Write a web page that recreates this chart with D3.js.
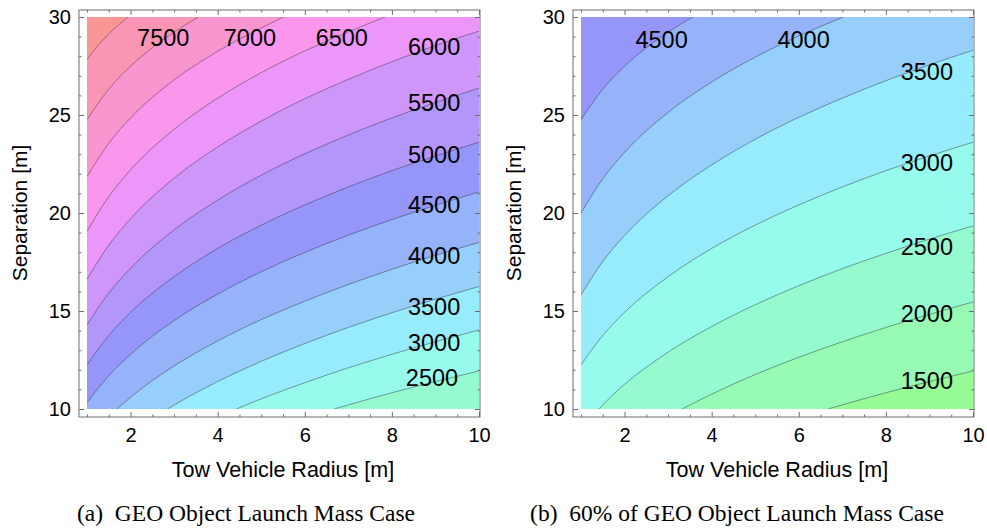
<!DOCTYPE html>
<html>
<head>
<meta charset="utf-8">
<script src="https://cdn.jsdelivr.net/npm/d3@7"></script>
<style>
  body { margin: 0; background: #fff; }
</style>
</head>
<body>
<div id="chart"></div>
<script>
// tick labels
var xTicks = [2, 4, 6, 8, 10];
var yTicks = [10, 15, 20, 25, 30];

// (a) contour levels, lines as [radius, separation]
var levelsA = [2500, 3000, 3500, 4000, 4500, 5000, 5500, 6000, 6500, 7000, 7500, 8000];
var linesA = [
  [[6.67,10],[7,10.21],[8,10.83],[9,11.40],[10,11.94]],
  [[4.43,10],[5,10.52],[6,11.34],[7,12.10],[8,12.79],[9,13.43],[10,14.03]],
  [[2.85,10],[3,10.20],[4,11.40],[5,12.43],[6,13.34],[7,14.16],[8,14.91],[9,15.60],[10,16.25]],
  [[1.69,10],[2,10.60],[3,12.20],[4,13.47],[5,14.56],[6,15.50],[7,16.35],[8,17.13],[9,17.84],[10,18.50]],
  [[1,10.32],[1.5,11.70],[2,12.79],[3,14.51],[4,15.86],[5,17.00],[6,17.99],[7,18.87],[8,19.66],[9,20.39],[10,21.07]],
  [[1,12.25],[1.5,13.75],[2,14.93],[3,16.75],[4,18.19],[5,19.38],[6,20.41],[7,21.33],[8,22.16],[9,22.91],[10,23.61]],
  [[1,14.29],[1.5,15.92],[2,17.18],[3,19.14],[4,20.66],[5,21.93],[6,23.02],[7,23.98],[8,24.85],[9,25.64],[10,26.37]],
  [[1,16.62],[1.5,18.36],[2,19.71],[3,21.78],[4,23.37],[5,24.69],[6,25.83],[7,26.82],[8,27.72],[9,28.54],[10,29.28]],
  [[1,19.06],[1.5,20.84],[2,22.20],[3,24.27],[4,25.86],[5,27.16],[6,28.27],[7,29.24],[7.84,30]],
  [[1,21.86],[1.5,23.56],[2,24.85],[3,26.79],[4,28.25],[5,29.44],[5.51,30]],
  [[1,24.76],[1.5,26.32],[2,27.49],[2.5,28.43],[3,29.23],[3.56,30]],
  [[1,27.82],[1.25,28.54],[1.5,29.14],[1.75,29.65],[1.94,30]]
];
// label spots for (a), null = unlabelled
var labelsA = [[8.92,11.59],[8.97,13.37],[8.97,15.21],[8.97,17.81],[8.97,20.42],[8.97,22.97],
               [8.97,25.63],[8.97,28.50],[6.85,28.96],[4.74,28.96],[2.75,28.96],null];

// (b) 60% case
var levelsB = [1500, 2000, 2500, 3000, 3500, 4000, 4500];
var linesB = [
  [[6.67,10],[7,10.21],[8,10.83],[9,11.40],[10,11.94]],
  [[3.32,10],[4,10.76],[5,11.76],[6,12.64],[7,13.43],[8,14.16],[9,14.83],[10,15.46]],
  [[1.41,10],[1.7,10.66],[2,11.26],[3,12.90],[4,14.21],[5,15.32],[6,16.29],[7,17.16],[8,17.94],[9,18.67],[10,19.34]],
  [[1,12.25],[1.5,13.75],[2,14.93],[3,16.75],[4,18.19],[5,19.38],[6,20.41],[7,21.33],[8,22.16],[9,22.91],[10,23.61]],
  [[1,15.82],[1.5,17.53],[2,18.85],[3,20.88],[4,22.45],[5,23.76],[6,24.88],[7,25.86],[8,26.75],[9,27.56],[10,28.30]],
  [[1,19.99],[1.5,21.75],[2,23.09],[3,25.13],[4,26.68],[5,27.95],[6,29.03],[7.02,30]],
  [[1,24.76],[1.5,26.32],[2,27.49],[2.5,28.43],[3,29.23],[3.57,30]]
];
var labelsB = [[8.94,11.45],[8.94,14.89],[8.94,18.29],[8.94,22.58],[8.94,27.22],[6.11,28.84],[2.85,28.84]];

var width = 987, height = 529;

var svg = d3.select("#chart")
  .append("svg")
    .attr("width", width)
    .attr("height", height)
    .style("font-family", "'Liberation Sans', Arial, sans-serif");

// shared colour: value -> hue (green .. blue .. magenta .. red)
var hue = d3.scaleLinear().domain([1250, 8250]).range([120, 360]);
function bandColor(v) {
  return d3.hsl(hue(v) % 360, 0.907, 0.784).formatHex();
}

var frameCol = "#6e6e6e";

function panel(left, levels, lines, labels, caption, captionX, id) {
  var x = d3.scaleLinear().domain([1, 10]).range([left, left + 392]);
  var y = d3.scaleLinear().domain([10, 30]).range([409, 17]);

  var fL = x(1) - 8, fR = x(10) + 1, fT = y(30) - 7, fB = y(10) + 8;

  var g = svg.append("g");

  svg.append("clipPath").attr("id", "clip" + id)
    .append("rect")
      .attr("x", x(1)).attr("y", y(30))
      .attr("width", x(10) - x(1)).attr("height", y(10) - y(30));

  var plot = g.append("g").attr("clip-path", "url(#clip" + id + ")");

  // lowest band first
  plot.append("rect")
    .attr("x", x(1)).attr("y", y(30))
    .attr("width", x(10) - x(1)).attr("height", y(10) - y(30))
    .attr("fill", bandColor(levels[0] - 250));

  var line = d3.line()
    .x(function(d) { return x(d[0]); })
    .y(function(d) { return y(d[1]); })
    .curve(d3.curveMonotoneX);

  // each level paints the region above-left of its line
  levels.forEach(function(lv, i) {
    var pts = lines[i];
    var first = pts[0], last = pts[pts.length - 1];
    var corners = [];
    if (last[0] >= 10) corners.push([10, 30]);
    corners.push([1, 30]);
    if (first[0] > 1) corners.push([1, 10]);
    var d = line(pts) + corners.map(function(c) { return "L" + x(c[0]) + "," + y(c[1]); }).join("") + "Z";
    plot.append("path").attr("d", d).attr("fill", bandColor(lv + 250));
  });

  plot.selectAll(".cline")
    .data(lines)
    .enter()
    .append("path")
      .attr("class", "cline")
      .attr("d", line)
      .attr("fill", "none")
      .attr("stroke", "#2a2a3a")
      .attr("stroke-opacity", 0.5)
      .attr("stroke-width", 0.9);

  // contour labels
  g.selectAll(".clab")
    .data(levels.map(function(lv, i) { return {v: lv, p: labels[i]}; }).filter(function(d) { return d.p; }))
    .enter()
    .append("text")
      .attr("class", "clab")
      .attr("x", function(d) { return x(d.p[0]); })
      .attr("y", function(d) { return y(d.p[1]); })
      .attr("dy", "0.36em")
      .attr("text-anchor", "middle")
      .style("font-size", "23.5px")
      .attr("fill", "#000")
      .text(function(d) { return d.v; });

  // frame
  g.append("rect")
    .attr("x", fL).attr("y", fT)
    .attr("width", fR - fL).attr("height", fB - fT)
    .attr("fill", "none")
    .attr("stroke", frameCol)
    .attr("stroke-width", 1);

  var xMinor = d3.range(1, 10.01, 0.5).filter(function(v) { return v % 2 !== 0; });
  var yMinor = d3.range(10, 30.01, 1).filter(function(v) { return v % 5 !== 0; });

  function styleAxis(sel) {
    sel.select(".domain").remove();
    sel.selectAll(".tick line").attr("stroke", frameCol);
    sel.selectAll("text").style("font-size", "20px").style("font-family", "'Liberation Sans', Arial, sans-serif").attr("fill", "#000");
  }

  g.append("g").attr("transform", "translate(0," + fB + ")")
    .call(d3.axisBottom(x).tickValues(xTicks).tickSizeInner(-5).tickSizeOuter(0).tickPadding(11))
    .call(styleAxis);
  g.append("g").attr("transform", "translate(0," + fB + ")")
    .call(d3.axisBottom(x).tickValues(xMinor).tickSize(-2.5).tickFormat(""))
    .call(styleAxis);
  g.append("g").attr("transform", "translate(0," + fT + ")")
    .call(d3.axisTop(x).tickValues(xTicks).tickSize(-5).tickFormat(""))
    .call(styleAxis);
  g.append("g").attr("transform", "translate(0," + fT + ")")
    .call(d3.axisTop(x).tickValues(xMinor).tickSize(-2.5).tickFormat(""))
    .call(styleAxis);

  g.append("g").attr("transform", "translate(" + fL + ",0)")
    .call(d3.axisLeft(y).tickValues(yTicks).tickSizeInner(-5).tickSizeOuter(0).tickPadding(8))
    .call(styleAxis);
  g.append("g").attr("transform", "translate(" + fL + ",0)")
    .call(d3.axisLeft(y).tickValues(yMinor).tickSize(-2.5).tickFormat(""))
    .call(styleAxis);
  g.append("g").attr("transform", "translate(" + fR + ",0)")
    .call(d3.axisRight(y).tickValues(yTicks).tickSize(-5).tickFormat(""))
    .call(styleAxis);
  g.append("g").attr("transform", "translate(" + fR + ",0)")
    .call(d3.axisRight(y).tickValues(yMinor).tickSize(-2.5).tickFormat(""))
    .call(styleAxis);

  // axis titles
  g.append("text")
    .attr("x", x(5.5))
    .attr("y", 477)
    .attr("text-anchor", "middle")
    .style("font-size", "21.5px")
    .text("Tow Vehicle Radius [m]");

  g.append("text")
    .attr("transform", "translate(" + (fL - 52) + "," + y(20) + ") rotate(-90)")
    .attr("text-anchor", "middle")
    .style("font-size", "21px")
    .text("Separation [m]");

  // sub-caption
  g.append("text")
    .attr("x", captionX)
    .attr("y", 521)
    .attr("text-anchor", "middle")
    .style("font-family", "'Liberation Serif', 'Times New Roman', serif")
    .style("font-size", "23.5px")
    .text(caption);
}

panel(87, levelsA, linesA, labelsA, "(a)\u00a0 GEO Object Launch Mass Case", 246, "a");
panel(581, levelsB, linesB, labelsB, "(b)\u00a0 60% of GEO Object Launch Mass Case", 737, "b");
</script>
</body>
</html>
